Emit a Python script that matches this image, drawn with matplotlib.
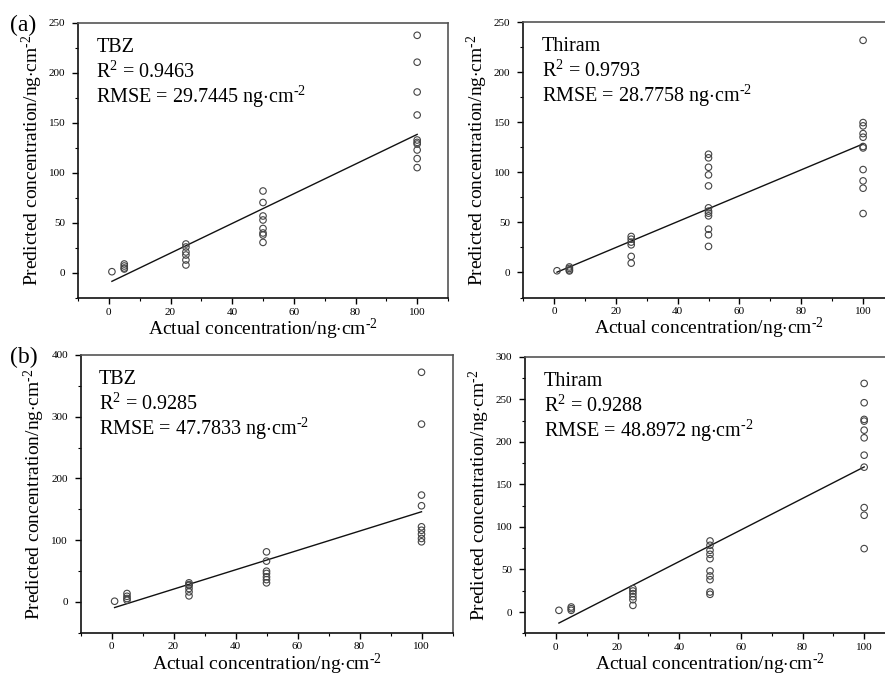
import matplotlib
matplotlib.use("Agg")
import matplotlib.pyplot as plt
import numpy as np
from matplotlib.ticker import MultipleLocator

plt.rcParams['font.family'] = ['Liberation Serif', 'DejaVu Serif']
plt.rcParams['mathtext.fontset'] = 'custom'
plt.rcParams['mathtext.rm'] = 'Liberation Serif'
plt.rcParams['mathtext.it'] = 'Liberation Serif:italic'

# ---------------- data ----------------
# Panel (a) TBZ
a_tbz_x = [1] + [5]*4 + [25]*6 + [50]*8 + [100]*10
a_tbz_y = [1.3,
           9, 7, 5, 4,
           29, 26, 21, 18, 13, 8,
           82, 70.5, 57, 53, 44.5, 40, 38, 30.6,
           237.7, 210.8, 181, 158, 133, 130.6, 129, 123, 114.4, 105.4]
a_tbz_fit = (-9.8, 1.484)   # intercept, slope
a_tbz_stats = ("TBZ", "0.9463", "29.7445")

# Panel (a) Thiram
a_thi_x = [1] + [5]*4 + [25]*6 + [50]*12 + [100]*11
a_thi_y = [1.7,
           5.5, 4, 2.5, 1.5,
           35.9, 33.2, 30.3, 27.6, 16, 9.3,
           118, 114.4, 105, 97.4, 86.4, 64.5, 61.2, 59.2, 56.5, 43.2, 37.6, 26,
           231.7, 149.6, 146.3, 138.6, 135, 125.7, 124.3, 102.7, 91.4, 84.1, 58.8]
a_thi_fit = (-1.0, 1.293)
a_thi_stats = ("Thiram", "0.9793", "28.7758")

# Panel (b) TBZ
b_tbz_x = [1] + [5]*4 + [25]*6 + [50]*7 + [100]*9
b_tbz_y = [1,
           13.5, 9, 5.4, 2.7,
           30.8, 28, 26.5, 21.6, 16.2, 9.7,
           81, 66, 49.7, 46, 40.5, 36, 30.8,
           372, 288, 173, 155.7, 121.6, 116, 109.7, 102.7, 97.3]
b_tbz_fit = (-10.8, 1.568)
b_tbz_stats = ("TBZ", "0.9285", "47.7833")

# Panel (b) Thiram
b_thi_x = [1] + [5]*3 + [25]*6 + [50]*10 + [100]*11
b_thi_y = [2,
           5.9, 3.9, 2,
           27.5, 24.7, 21.6, 18, 14.5, 7.8,
           83.5, 78.4, 72.5, 67.8, 62.7, 48.2, 42.4, 38, 23.5, 20.8,
           268.6, 245.9, 226.3, 224.3, 213.7, 204.7, 184.3, 170.2, 122.7, 113.7, 74.5]
b_thi_fit = (-14.8, 1.853)
b_thi_stats = ("Thiram", "0.9288", "48.8972")

x_ticks = [0, 20, 40, 60, 80, 100]

# ---------------- figure ----------------
W, H = 885, 677
fig = plt.figure(figsize=(W/100, H/100), dpi=100)

def px_axes(l, t, r, b):
    return fig.add_axes([l/W, 1 - b/H, (r - l)/W, (b - t)/H])

unit = r"ng$\cdot$cm$^{\text{-2}}$"

panels = [
    ((78, 23, 448, 298), a_tbz_x, a_tbz_y, a_tbz_fit, a_tbz_stats, (-25, 250), 50, "(a)"),
    ((523, 22, 894, 297.5), a_thi_x, a_thi_y, a_thi_fit, a_thi_stats, (-25, 250), 50, None),
    ((80.5, 355, 452.5, 632.7), b_tbz_x, b_tbz_y, b_tbz_fit, b_tbz_stats, (-50, 400), 100, "(b)"),
    ((525, 356.7, 895, 633.3), b_thi_x, b_thi_y, b_thi_fit, b_thi_stats, (-25, 300), 50, None),
]

for box, xs, ys, fit, stats, ylim, ymaj, lab in panels:
    ax = px_axes(*box)
    ax.scatter(xs, ys, s=22, facecolors='none', edgecolors='#444444', linewidths=0.8, zorder=3)
    b0, k = fit
    fx = np.array([1, 100])
    ax.plot(fx, b0 + k*fx, color='#111111', lw=1.0, zorder=2)
    ax.set_xlim(-10, 110)
    ax.set_ylim(*ylim)
    ax.set_xticks(x_ticks)
    ax.xaxis.set_minor_locator(MultipleLocator(10))
    ax.yaxis.set_major_locator(MultipleLocator(ymaj))
    ax.yaxis.set_minor_locator(MultipleLocator(ymaj/2))
    ax.tick_params(which='major', direction='out', length=4, width=1, labelsize=8)
    ax.tick_params(axis='x', which='major', pad=3)
    ax.tick_params(axis='y', which='major', pad=5)
    ax.tick_params(which='minor', direction='out', length=2.5, width=0.8)
    ax.tick_params(top=False, right=False)
    for s in ['left', 'bottom']:
        ax.spines[s].set_linewidth(1.2)
        ax.spines[s].set_color('#111111')
    for s in ['top', 'right']:
        ax.spines[s].set_linewidth(1.2)
        ax.spines[s].set_color('#555555')
    ax.set_xlabel("Actual concentration/" + unit, fontsize=14, labelpad=0)
    ax.set_ylabel("Predicted concentration/" + unit, fontsize=14, labelpad=3)
    name, r2, rmse = stats
    ax.text(0.05, 0.91, name, transform=ax.transAxes, fontsize=14.5, va='center', ha='left')
    ax.text(0.05, 0.822, r"R$^{\mathrm{2}}$ = " + r2, transform=ax.transAxes, fontsize=14.5, va='center', ha='left')
    ax.text(0.05, 0.733, "RMSE = " + rmse + " " + unit, transform=ax.transAxes,
            fontsize=14.5, va='center', ha='left')
    if lab:
        fig.text(10/W, 1 - (box[1] + 2)/H, lab, fontsize=17, va='center', ha='left')

fig.savefig("out.png", dpi=100)
